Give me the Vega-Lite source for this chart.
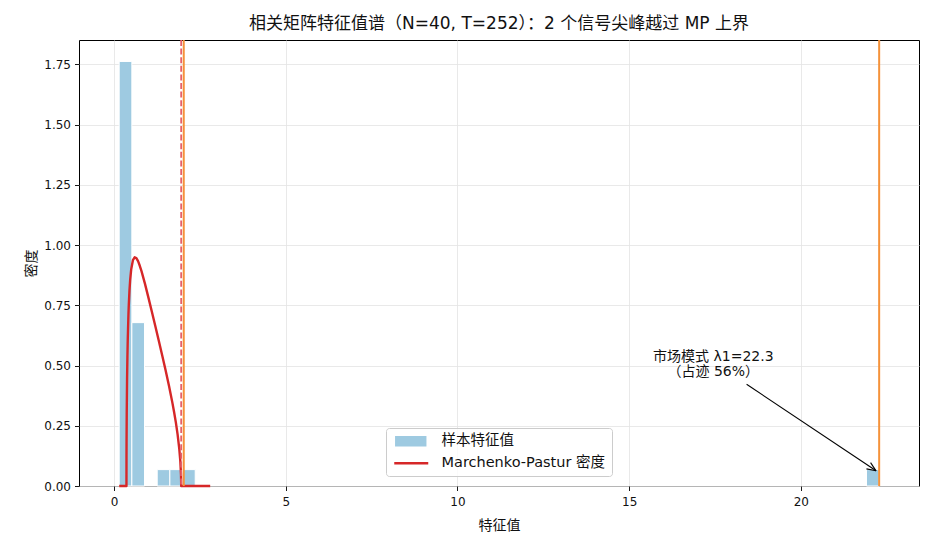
{
  "$schema": "https://vega.github.io/schema/vega-lite/v6.json",
  "width": 840,
  "height": 446,
  "autosize": {"type": "none"},
  "padding": {"left": 79, "top": 40, "right": 16, "bottom": 64},
  "background": "white",
  "config": {
    "font": "DejaVu Sans, Noto Sans CJK SC",
    "view": {"stroke": "black", "strokeWidth": 1},
    "axis": {
      "domain": false,
      "grid": true,
      "gridColor": "#e3e3e3",
      "gridWidth": 0.8,
      "tickColor": "black",
      "tickSize": 4.5,
      "tickWidth": 0.9,
      "labelFontSize": 12,
      "labelColor": "#111111",
      "titleFontSize": 14,
      "titleFontWeight": "normal",
      "titleColor": "#111111"
    }
  },
  "title": {
    "text": "相关矩阵特征值谱（N=40, T=252）：2 个信号尖峰越过 MP 上界",
    "fontSize": 17,
    "fontWeight": "normal",
    "color": "#111111",
    "anchor": "middle",
    "offset": 6
  },
  "datasets": {
    "hist": [
      {"start": 0.15, "end": 0.519, "density": 1.762},
      {"start": 0.519, "end": 0.888, "density": 0.678},
      {"start": 1.257, "end": 1.626, "density": 0.068},
      {"start": 1.626, "end": 1.995, "density": 0.068},
      {"start": 1.995, "end": 2.364, "density": 0.068},
      {"start": 21.911, "end": 22.28, "density": 0.068}
    ],
    "mp": [
      {"x": 0.15, "y": 0},
      {"x": 0.3619, "y": 0},
      {"x": 0.363, "y": 0.115},
      {"x": 0.365, "y": 0.193},
      {"x": 0.37, "y": 0.307},
      {"x": 0.38, "y": 0.446},
      {"x": 0.39, "y": 0.539},
      {"x": 0.40, "y": 0.610},
      {"x": 0.42, "y": 0.713},
      {"x": 0.43, "y": 0.752},
      {"x": 0.45, "y": 0.812},
      {"x": 0.47, "y": 0.855},
      {"x": 0.50, "y": 0.899},
      {"x": 0.55, "y": 0.937},
      {"x": 0.60, "y": 0.949},
      {"x": 0.65, "y": 0.946},
      {"x": 0.70, "y": 0.933},
      {"x": 0.75, "y": 0.914},
      {"x": 0.80, "y": 0.892},
      {"x": 0.90, "y": 0.840},
      {"x": 1.00, "y": 0.783},
      {"x": 1.10, "y": 0.724},
      {"x": 1.20, "y": 0.665},
      {"x": 1.30, "y": 0.605},
      {"x": 1.40, "y": 0.544},
      {"x": 1.50, "y": 0.481},
      {"x": 1.60, "y": 0.416},
      {"x": 1.70, "y": 0.345},
      {"x": 1.75, "y": 0.306},
      {"x": 1.80, "y": 0.264},
      {"x": 1.85, "y": 0.215},
      {"x": 1.90, "y": 0.154},
      {"x": 1.93, "y": 0.104},
      {"x": 1.95, "y": 0.048},
      {"x": 1.955, "y": 0.015},
      {"x": 1.9556, "y": 0},
      {"x": 2.8, "y": 0}
    ],
    "mpEdge": [{"x": 1.9555}],
    "spikes": [{"x": 2.03}, {"x": 22.28}],
    "arrow": [
      {"x": 18.42, "y": 0.422, "x2": 22.19, "y2": 0.063},
      {"x": 21.91, "y": 0.071, "x2": 22.19, "y2": 0.063},
      {"x": 22.03, "y": 0.097, "x2": 22.19, "y2": 0.063}
    ],
    "note": [{"x": 17.45, "y": 0.535}]
  },
  "layer": [
    {
      "data": {"name": "hist"},
      "mark": {"type": "bar", "stroke": "white", "strokeWidth": 1},
      "encoding": {
        "x": {
          "field": "start",
          "type": "quantitative",
          "title": "特征值",
          "scale": {"domain": [-1.02, 23.44], "nice": false, "zero": false},
          "axis": {"values": [0, 5, 10, 15, 20], "titlePadding": 11, "labelPadding": 6}
        },
        "x2": {"field": "end"},
        "y": {
          "field": "density",
          "type": "quantitative",
          "title": "密度",
          "scale": {"domain": [0, 1.851], "nice": false},
          "axis": {"values": [0, 0.25, 0.5, 0.75, 1, 1.25, 1.5, 1.75], "format": ".2f", "titlePadding": 5, "labelPadding": 4}
        },
        "y2": {"datum": 0},
        "color": {
          "datum": "样本特征值",
          "scale": {"domain": ["样本特征值", "Marchenko-Pastur 密度"], "range": ["#9ecae1", "#d62728"]},
          "legend": {
            "title": null,
            "orient": "none",
            "legendX": 307,
            "legendY": 388,
            "fillColor": "rgba(255,255,255,0.8)",
            "strokeColor": "#cccccc",
            "cornerRadius": 3,
            "padding": 6,
            "labelFontSize": 14.5,
            "labelLimit": 400,
            "labelColor": "#111111",
            "labelOffset": 35,
            "rowPadding": 4,
            "symbolSize": 100,
            "symbolStrokeWidth": 2.4,
            "symbolOpacity": 1,
            "symbolType": {"expr": "datum.value === '样本特征值' ? 'M-0.6,-0.8H5.2V0.8H-0.6Z' : 'M-1,0H5.8'"},
            "symbolStrokeColor": {"expr": "datum.value === '样本特征值' ? 'transparent' : '#d62728'"}
          }
        }
      }
    },
    {
      "data": {"name": "mp"},
      "mark": {"type": "line", "strokeWidth": 2.4, "strokeJoin": "round"},
      "encoding": {
        "x": {"field": "x", "type": "quantitative", "title": "特征值"},
        "y": {"field": "y", "type": "quantitative", "title": "密度"},
        "color": {"datum": "Marchenko-Pastur 密度"}
      }
    },
    {
      "data": {"name": "mpEdge"},
      "mark": {"type": "rule", "color": "#e6606a", "strokeWidth": 1.8, "strokeDash": [6, 2.6]},
      "encoding": {"x": {"field": "x", "type": "quantitative", "title": "特征值"}}
    },
    {
      "data": {"name": "spikes"},
      "mark": {"type": "rule", "color": "#f5923a", "strokeWidth": 2},
      "encoding": {"x": {"field": "x", "type": "quantitative", "title": "特征值"}}
    },
    {
      "data": {"name": "arrow"},
      "mark": {"type": "rule", "color": "black", "strokeWidth": 1.1},
      "encoding": {
        "x": {"field": "x", "type": "quantitative", "title": "特征值"},
        "y": {"field": "y", "type": "quantitative", "title": "密度"},
        "x2": {"field": "x2"},
        "y2": {"field": "y2"}
      }
    },
    {
      "data": {"name": "note"},
      "mark": {
        "type": "text",
        "text": ["市场模式 λ1=22.3", "（占迹 56%）"],
        "align": "center",
        "baseline": "middle",
        "fontSize": 14,
        "lineHeight": 15,
        "color": "#111111"
      },
      "encoding": {
        "x": {"field": "x", "type": "quantitative", "title": "特征值"},
        "y": {"field": "y", "type": "quantitative", "title": "密度"}
      }
    }
  ]
}
